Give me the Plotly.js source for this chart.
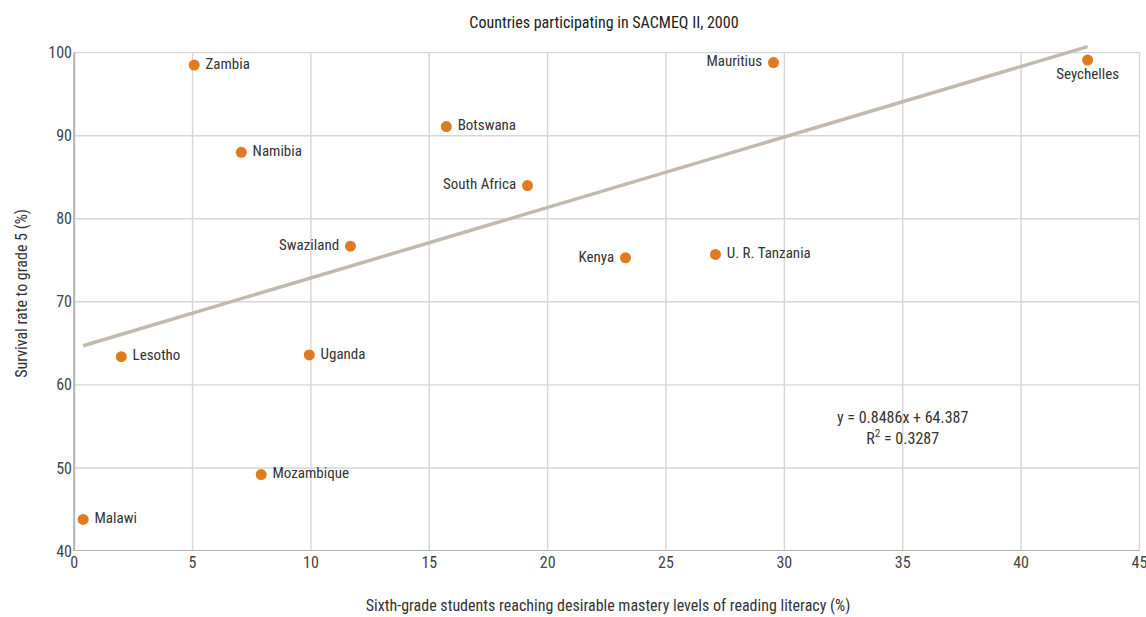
<!DOCTYPE html>
<html><head><meta charset="utf-8">
<script src="https://cdn.plot.ly/plotly-3.0.1.min.js"></script>
<style>body{margin:0;background:#fff}#chart{width:1146px;height:617px}</style>
</head><body><div id="chart"></div>
<script>
const countries = ["Zambia","Namibia","Botswana","South Africa","Swaziland","Kenya","U. R. Tanzania","Mauritius","Seychelles","Lesotho","Uganda","Mozambique","Malawi"];
const readingPct = [5.07, 7.06, 15.72, 19.15, 11.67, 23.29, 27.09, 29.54, 42.81, 1.99, 9.93, 7.90, 0.38];
const survivalPct = [98.5, 88.0, 91.1, 84.0, 76.7, 75.3, 75.7, 98.8, 99.1, 63.4, 63.6, 49.2, 43.8];
const labelPos = ["middle right","middle right","middle right","middle left","middle left","middle left","middle right","middle left","bottom center","middle right","middle right","middle right","middle right"];
const slope = 0.8486, intercept = 64.387, r2 = 0.3287;
const xTicks = [0,5,10,15,20,25,30,35,40,45];
const yTicks = [40,50,60,70,80,90,100];

const FONT = "Roboto Condensed, Liberation Sans Narrow, Arial Narrow, DejaVu Sans Condensed, sans-serif";
const xmin = Math.min(...readingPct), xmax = Math.max(...readingPct);
const xLo = xTicks[0], xHi = xTicks[xTicks.length-1];
const yLo = yTicks[0], yHi = yTicks[yTicks.length-1];

const labels = countries.map((c,i)=> labelPos[i].indexOf('left')>=0 ? c+' ' : (labelPos[i].indexOf('right')>=0 ? ' '+c : c));

const traces = [
  {x:[xmin,xmax], y:[intercept+slope*xmin, intercept+slope*xmax], mode:'lines',
   line:{color:'#c2b9ad', width:3.5}, hoverinfo:'skip', showlegend:false},
  {x:readingPct, y:survivalPct, mode:'markers+text', text:labels, textposition:labelPos,
   marker:{color:'#e07a1f', size:11}, textfont:{family:FONT, size:15, color:'#333'},
   cliponaxis:false, showlegend:false}
];

const grid = {color:'#d6d6d6', width:1.4};
const vShapes = xTicks.filter(v=>v>xLo).map(v=>({type:'line', xref:'x', yref:'y', x0:v, x1:v, y0:yLo, y1:yHi, line:grid, layer:'below'}));
const hShapes = yTicks.filter(v=>v>yLo).map(v=>({type:'line', xref:'x', yref:'y', x0:xLo, x1:xHi, y0:v, y1:v, line:grid, layer:'below'}));
const axisShapes = [
  {type:'line', xref:'x', yref:'y', x0:xLo, x1:xHi, y0:yLo, y1:yLo, line:{color:'#b3b3b3', width:2}, layer:'below'},
  {type:'line', xref:'x', yref:'y', x0:xLo, x1:xLo, y0:yLo, y1:yHi, line:{color:'#b3b3b3', width:2}, layer:'below'}
];

const layout = {
  width:1146, height:617,
  margin:{l:73, r:3, t:36, b:66},
  paper_bgcolor:'#fff', plot_bgcolor:'#fff',
  font:{family:FONT, size:15, color:'#333'},
  title:{text:'Countries participating in SACMEQ II, 2000', x:0.527, xanchor:'center', y:0.963, yanchor:'middle', font:{family:FONT, size:16, color:'#222'}},
  xaxis:{range:[-0.05,45.15], tickvals:xTicks, showgrid:false, zeroline:false, showline:false,
    ticks:'', ticklen:0, tickfont:{size:16, color:'#444'}, ticklabeloverflow:'allow',
    title:{text:'Sixth-grade students reaching desirable mastery levels of reading literacy (%)', font:{size:16, color:'#333'}, standoff:28}},
  yaxis:{range:[40,102], tickvals:yTicks, showgrid:false, zeroline:false,
    showline:false, ticks:'', tickfont:{size:16, color:'#444'},
    title:{text:'Survival rate to grade 5 (%)', font:{size:16, color:'#333'}, standoff:16}},
  shapes:vShapes.concat(hShapes, axisShapes),
  annotations:[{xref:'x', yref:'y', x:35.0, y:57.5, yanchor:'top', showarrow:false, align:'center',
    text:'y = '+slope+'x + '+intercept+'<br>R<sup>2</sup> = '+r2, font:{family:FONT, size:16, color:'#333'}}]
};
Plotly.newPlot('chart', traces, layout, {displayModeBar:false, staticPlot:true});
</script></body></html>
